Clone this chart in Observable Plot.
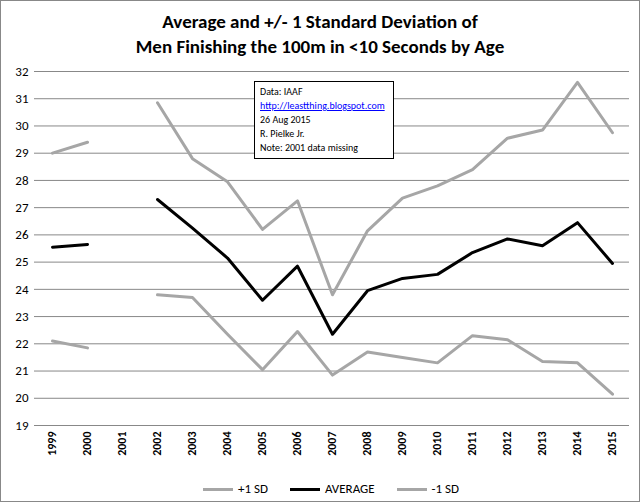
<!DOCTYPE html>
<html><head><meta charset="utf-8">
<script src="https://cdn.jsdelivr.net/npm/d3@7"></script>
<script src="https://cdn.jsdelivr.net/npm/@observablehq/plot@0.6"></script>
<style>
body{margin:0;font-family:Calibri,Carlito,"Liberation Sans",Arial,sans-serif;}
#wrap{position:relative;width:638px;height:500px;border:1px solid #888;background:#fff;}
#title{position:absolute;top:8px;left:0;width:638px;text-align:center;font-weight:bold;font-size:19px;line-height:25px;}
#chart{position:absolute;top:58px;left:0;}
#note{position:absolute;left:253px;top:80px;width:140px;border:1px solid #000;background:#fff;font-size:10px;line-height:14px;padding:3px 5px;box-sizing:border-box;}
#note a{color:#00f;text-decoration:underline;}
#legend{position:absolute;top:480px;left:0;width:638px;text-align:center;font-size:13px;}
#legend span{display:inline-block;width:30px;height:3px;vertical-align:middle;margin:0 5px 0 22px;}
</style></head><body>
<div id="wrap">
<div id="title">Average and +/- 1 Standard Deviation of<br>Men Finishing the 100m in &lt;10 Seconds by Age</div>
<div id="chart"></div>
<div id="note">Data: IAAF<br><a>http://leastthing.blogspot.com</a><br>26 Aug 2015<br>R. Pielke Jr.<br>Note: 2001 data missing</div>
<div id="legend"><span style="background:#a6a6a6"></span>+1 SD<span style="background:#000"></span>AVERAGE<span style="background:#a6a6a6"></span>-1 SD</div>
</div>
<script>
const years = ["1999","2000","2001","2002","2003","2004","2005","2006","2007","2008","2009","2010","2011","2012","2013","2014","2015"];
const plusSD = [29.0,29.4,null,30.85,28.8,27.95,26.2,27.25,23.8,26.15,27.35,27.8,28.4,29.55,29.85,31.6,29.75];
const average = [25.55,25.65,null,27.3,26.25,25.15,23.6,24.85,22.35,23.95,24.4,24.55,25.35,25.85,25.6,26.45,24.95];
const minusSD = [22.1,21.85,null,23.8,23.7,22.35,21.05,22.45,20.85,21.7,21.5,21.3,22.3,22.15,21.35,21.3,20.15];
const yTicks = d3.range(19,33);
const mk = (arr,s)=>years.map((y,i)=>({year:y,v:arr[i],s}));
const data = [...mk(plusSD,"+1 SD"),...mk(average,"AVERAGE"),...mk(minusSD,"-1 SD")];
const chart = Plot.plot({
  width:638,height:412,marginTop:12,marginLeft:33,marginRight:10,marginBottom:46,
  style:{fontFamily:"Calibri,Carlito,'Liberation Sans',Arial,sans-serif",fontSize:"13px",color:"#000"},
  x:{type:"point",domain:years,padding:0.5,label:null},
  y:{domain:[19,32],ticks:yTicks,label:null},
  marks:[
    Plot.gridY(yTicks,{stroke:"#888",strokeOpacity:1}),
    Plot.axisY(yTicks,{tickSize:0,tickPadding:6,fontSize:13}),
    Plot.axisX({tickSize:0,tickRotate:-90,fontSize:12,fontWeight:"bold",tickPadding:6}),
    Plot.ruleY([19],{stroke:"#888"}),
    Plot.ruleX([32.5],{stroke:"#888",x:()=>null}),
    Plot.line(data,{x:"year",y:"v",z:"s",stroke:d=>d.s==="AVERAGE"?"#000":"#a6a6a6",strokeWidth:3,defined:d=>d.v!=null})
  ]
});
document.getElementById("chart").appendChild(chart);
</script>
</body></html>
